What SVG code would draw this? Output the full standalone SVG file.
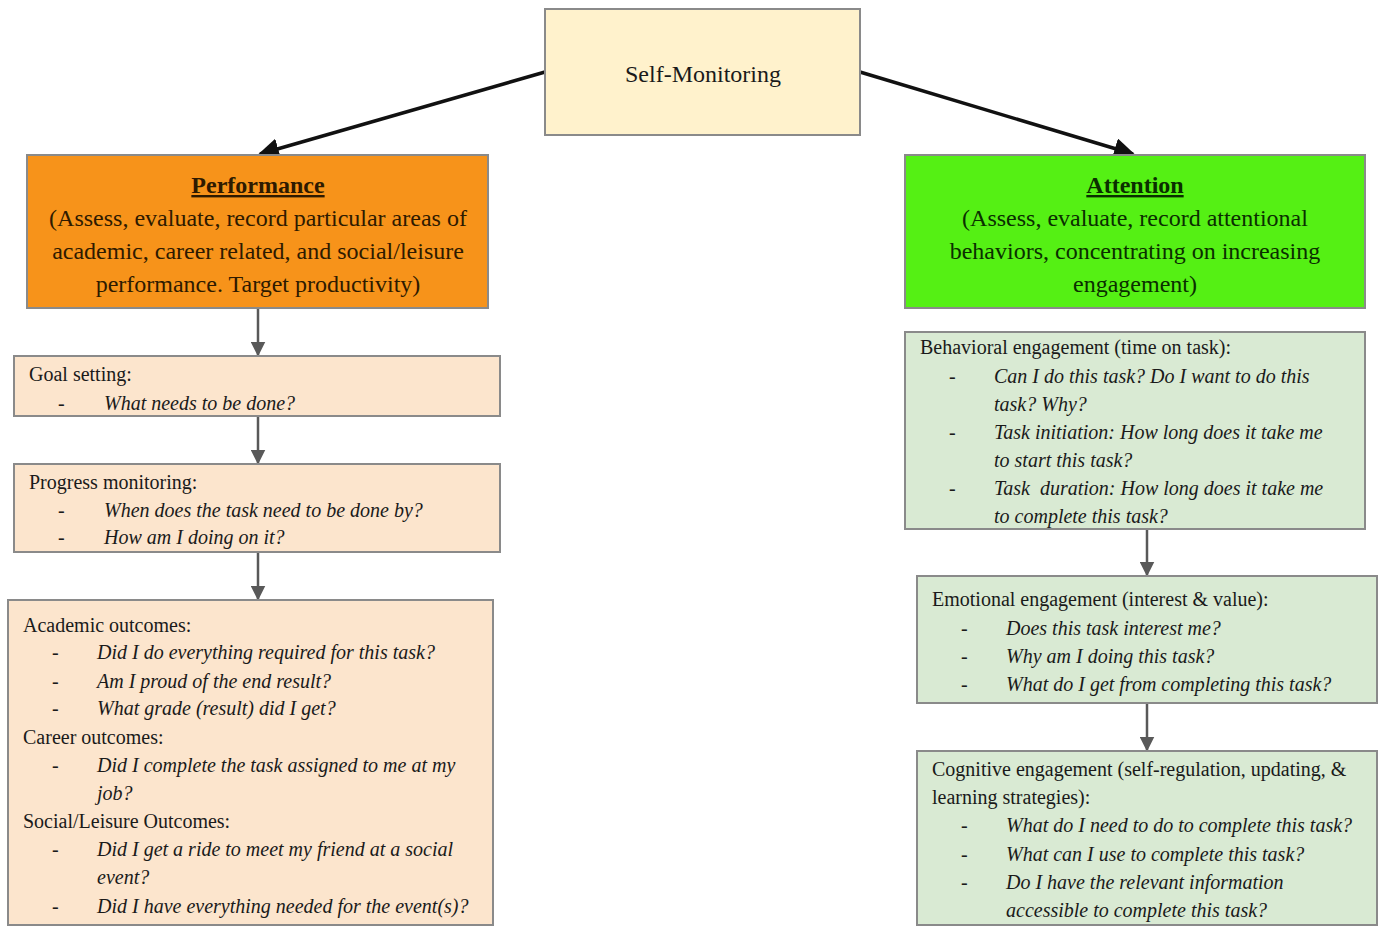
<svg xmlns="http://www.w3.org/2000/svg" width="1382" height="927" viewBox="0 0 1382 927">
<style>
.box{stroke:#8a8a8a;stroke-width:2}
.t{font-family:"Liberation Serif","Times New Roman",serif;fill:#1a1a1a}
.h{font-size:24px;text-anchor:middle}
.b{font-size:20px}
.i{font-style:italic}
.po{fill:#2e1a00}
.at{fill:#0a2e00}
.main{stroke:#111;stroke-width:3.5;fill:none}
.sub{stroke:#595959;stroke-width:2.5;fill:none}
</style>
<defs>
<marker id="ab" viewBox="0 0 10 10" refX="9" refY="5" markerWidth="6" markerHeight="6" markerUnits="strokeWidth" orient="auto"><path d="M0,0 L10,5 L0,10 z" fill="#111"/></marker>
<marker id="ag" viewBox="0 0 10 10" refX="9" refY="5" markerWidth="6" markerHeight="6" markerUnits="strokeWidth" orient="auto"><path d="M0,0 L10,5 L0,10 z" fill="#595959"/></marker>
</defs>
<rect width="1382" height="927" fill="#ffffff"/>
<g id="connectors">
<line class="main" x1="545" y1="72" x2="260" y2="154" marker-end="url(#ab)"/>
<line class="main" x1="860" y1="72" x2="1133" y2="154" marker-end="url(#ab)"/>
<line class="sub" x1="258" y1="309" x2="258" y2="355" marker-end="url(#ag)"/>
<line class="sub" x1="258" y1="417" x2="258" y2="463" marker-end="url(#ag)"/>
<line class="sub" x1="258" y1="553" x2="258" y2="599" marker-end="url(#ag)"/>
<line class="sub" x1="1147" y1="530" x2="1147" y2="575" marker-end="url(#ag)"/>
<line class="sub" x1="1147" y1="704" x2="1147" y2="750" marker-end="url(#ag)"/>
</g>
<g id="self-monitoring">
<rect class="box" x="545" y="9" width="315" height="126" fill="#fff2cc"/>
<text class="t h" x="703" y="82">Self-Monitoring</text>
</g>
<g id="performance">
<rect class="box" x="27" y="155" width="461" height="153" fill="#f7931a"/>
<text class="t h po" x="258" y="193" font-weight="bold" text-decoration="underline">Performance</text>
<text class="t h po" x="258" y="226">(Assess, evaluate, record particular areas of</text>
<text class="t h po" x="258" y="259">academic, career related, and social/leisure</text>
<text class="t h po" x="258" y="292">performance. Target productivity)</text>
</g>
<g id="attention">
<rect class="box" x="905" y="155" width="460" height="153" fill="#55f014"/>
<text class="t h at" x="1135" y="193" font-weight="bold" text-decoration="underline">Attention</text>
<text class="t h at" x="1135" y="226">(Assess, evaluate, record attentional</text>
<text class="t h at" x="1135" y="259">behaviors, concentrating on increasing</text>
<text class="t h at" x="1135" y="292">engagement)</text>
</g>
<g id="goal-setting">
<rect class="box" x="14" y="356" width="486" height="60" fill="#fce5cd"/>
<text class="t b" x="29" y="381">Goal setting:</text>
<text class="t b" x="58" y="410">-</text>
<text class="t b i" x="104" y="410">What needs to be done?</text>
</g>
<g id="progress-monitoring">
<rect class="box" x="14" y="464" width="486" height="88" fill="#fce5cd"/>
<text class="t b" x="29" y="489">Progress monitoring:</text>
<text class="t b" x="58" y="517">-</text>
<text class="t b i" x="104" y="517">When does the task need to be done by?</text>
<text class="t b" x="58" y="544">-</text>
<text class="t b i" x="104" y="544">How am I doing on it?</text>
</g>
<g id="outcomes">
<rect class="box" x="8" y="600" width="485" height="325" fill="#fce5cd"/>
<text class="t b" x="23" y="632">Academic outcomes:</text>
<text class="t b" x="52" y="659">-</text>
<text class="t b i" x="97" y="659">Did I do everything required for this task?</text>
<text class="t b" x="52" y="688">-</text>
<text class="t b i" x="97" y="688">Am I proud of the end result?</text>
<text class="t b" x="52" y="715">-</text>
<text class="t b i" x="97" y="715">What grade (result) did I get?</text>
<text class="t b" x="23" y="744">Career outcomes:</text>
<text class="t b" x="52" y="772">-</text>
<text class="t b i" x="97" y="772">Did I complete the task assigned to me at my</text>
<text class="t b i" x="97" y="800">job?</text>
<text class="t b" x="23" y="828">Social/Leisure Outcomes:</text>
<text class="t b" x="52" y="856">-</text>
<text class="t b i" x="97" y="856">Did I get a ride to meet my friend at a social</text>
<text class="t b i" x="97" y="884">event?</text>
<text class="t b" x="52" y="913">-</text>
<text class="t b i" x="97" y="913">Did I have everything needed for the event(s)?</text>
</g>
<g id="behavioral">
<rect class="box" x="905" y="332" width="460" height="197" fill="#d9ead3"/>
<text class="t b" x="920" y="354">Behavioral engagement (time on task):</text>
<text class="t b" x="949" y="383">-</text>
<text class="t b i" x="994" y="383">Can I do this task? Do I want to do this</text>
<text class="t b i" x="994" y="411">task? Why?</text>
<text class="t b" x="949" y="439">-</text>
<text class="t b i" x="994" y="439">Task initiation: How long does it take me</text>
<text class="t b i" x="994" y="467">to start this task?</text>
<text class="t b" x="949" y="495">-</text>
<text class="t b i" x="994" y="495" style="white-space:pre">Task  duration: How long does it take me</text>
<text class="t b i" x="994" y="523">to complete this task?</text>
</g>
<g id="emotional">
<rect class="box" x="917" y="576" width="460" height="127" fill="#d9ead3"/>
<text class="t b" x="932" y="606">Emotional engagement (interest &amp; value):</text>
<text class="t b" x="961" y="635">-</text>
<text class="t b i" x="1006" y="635">Does this task interest me?</text>
<text class="t b" x="961" y="663">-</text>
<text class="t b i" x="1006" y="663">Why am I doing this task?</text>
<text class="t b" x="961" y="691">-</text>
<text class="t b i" x="1006" y="691">What do I get from completing this task?</text>
</g>
<g id="cognitive">
<rect class="box" x="917" y="751" width="460" height="174" fill="#d9ead3"/>
<text class="t b" x="932" y="776">Cognitive engagement (self-regulation, updating, &amp;</text>
<text class="t b" x="932" y="804">learning strategies):</text>
<text class="t b" x="961" y="832">-</text>
<text class="t b i" x="1006" y="832">What do I need to do to complete this task?</text>
<text class="t b" x="961" y="861">-</text>
<text class="t b i" x="1006" y="861">What can I use to complete this task?</text>
<text class="t b" x="961" y="889">-</text>
<text class="t b i" x="1006" y="889">Do I have the relevant information</text>
<text class="t b i" x="1006" y="917">accessible to complete this task?</text>
</g>
</svg>
